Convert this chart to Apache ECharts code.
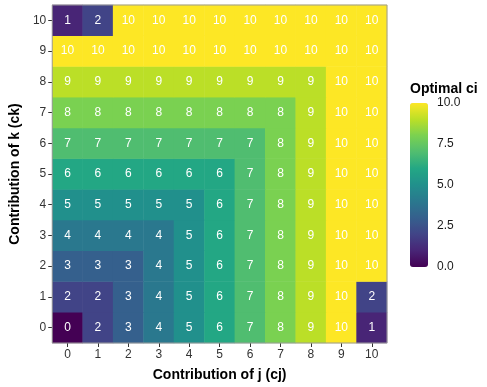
<!DOCTYPE html>
<html><head><meta charset="utf-8">
<script src="https://cdn.jsdelivr.net/npm/echarts@6/dist/echarts.min.js"></script>
<style>html,body{margin:0;padding:0;background:#fff}#c{width:487px;height:387px}</style>
</head><body><div id="c"></div>
<script>
const cjCategories = ['0','1','2','3','4','5','6','7','8','9','10'];
const ckCategories = ['0','1','2','3','4','5','6','7','8','9','10'];
// rows indexed by ck (0..10), columns by cj (0..10)
const row0  = [0,2,3,4,5,6,7,8,9,10,1];
const row1  = [2,2,3,4,5,6,7,8,9,10,2];
const row2  = [3,3,3,4,5,6,7,8,9,10,10];
const row3  = [4,4,4,4,5,6,7,8,9,10,10];
const row4  = [5,5,5,5,5,6,7,8,9,10,10];
const row5  = [6,6,6,6,6,6,7,8,9,10,10];
const row6  = [7,7,7,7,7,7,7,8,9,10,10];
const row7  = [8,8,8,8,8,8,8,8,9,10,10];
const row8  = [9,9,9,9,9,9,9,9,9,10,10];
const row9  = [10,10,10,10,10,10,10,10,10,10,10];
const row10 = [1,2,10,10,10,10,10,10,10,10,10];

const rows = [row0,row1,row2,row3,row4,row5,row6,row7,row8,row9,row10];
const data = [];
rows.forEach((r, k) => r.forEach((v, j) => data.push([j, k, v])));

const viridis = ['#440154','#482576','#414487','#35608D','#2A788E','#21908C','#23A784','#50BD70','#7AD151','#BBDF27','#FDE725'];
const font = 'Liberation Sans, Arial, sans-serif';

const chart = echarts.init(document.getElementById('c'));
chart.setOption({
  animation: false,
  textStyle: {fontFamily: font},
  grid: [
    {left: 49, right: 100, top: 5, bottom: 43, show: true, borderColor: '#9a9a9a', borderWidth: 1, z: 10},
    {left: 410, width: 18, top: 103, height: 164, show: false}
  ],
  xAxis: [
    {type: 'category', data: cjCategories, gridIndex: 0,
     name: 'Contribution of j (cj)', nameLocation: 'middle', nameGap: 25,
     nameTextStyle: {fontSize: 14, fontWeight: 'bold', color: '#000'},
     axisLine: {show: false}, axisTick: {show: true, alignWithLabel: true, length: 4, lineStyle: {color: '#333'}},
     axisLabel: {fontSize: 12, color: '#333', margin: 6}, splitLine: {show: false}},
    {type: 'value', gridIndex: 1, show: false}
  ],
  yAxis: [
    {type: 'category', data: ckCategories, gridIndex: 0,
     name: 'Contribution of k (ck)', nameLocation: 'middle', nameGap: 30,
     nameTextStyle: {fontSize: 14, fontWeight: 'bold', color: '#000'},
     axisLine: {show: false}, axisTick: {show: true, alignWithLabel: true, length: 4, lineStyle: {color: '#333'}},
     axisLabel: {fontSize: 12, color: '#333', margin: 6}, splitLine: {show: false}},
    {type: 'value', gridIndex: 1, position: 'right', min: 0, max: 10, interval: 2.5,
     axisLine: {show: false},
     axisTick: {show: true, inside: true, length: 4, lineStyle: {color: 'rgba(255,255,255,0.8)'}},
     axisLabel: {fontSize: 12, color: '#1a1a1a', margin: 9, formatter: v => v.toFixed(1)},
     splitLine: {show: false}}
  ],
  visualMap: {
    type: 'continuous', min: 0, max: 10, calculable: false, seriesIndex: 0,
    left: 410, top: 103, itemWidth: 18, itemHeight: 164, padding: 0,
    text: null, showLabel: false, inRange: {color: viridis}
  },
  graphic: [{type: 'text', left: 410, top: 82,
    style: {text: 'Optimal ci', font: 'bold 14px ' + font, fill: '#000'}}],
  series: [{
    type: 'heatmap', xAxisIndex: 0, yAxisIndex: 0, data: data,
    label: {show: true, color: '#fff', fontSize: 12, fontFamily: font, formatter: p => p.value[2]},
    itemStyle: {borderWidth: 0}
  }]
});
</script></body></html>
